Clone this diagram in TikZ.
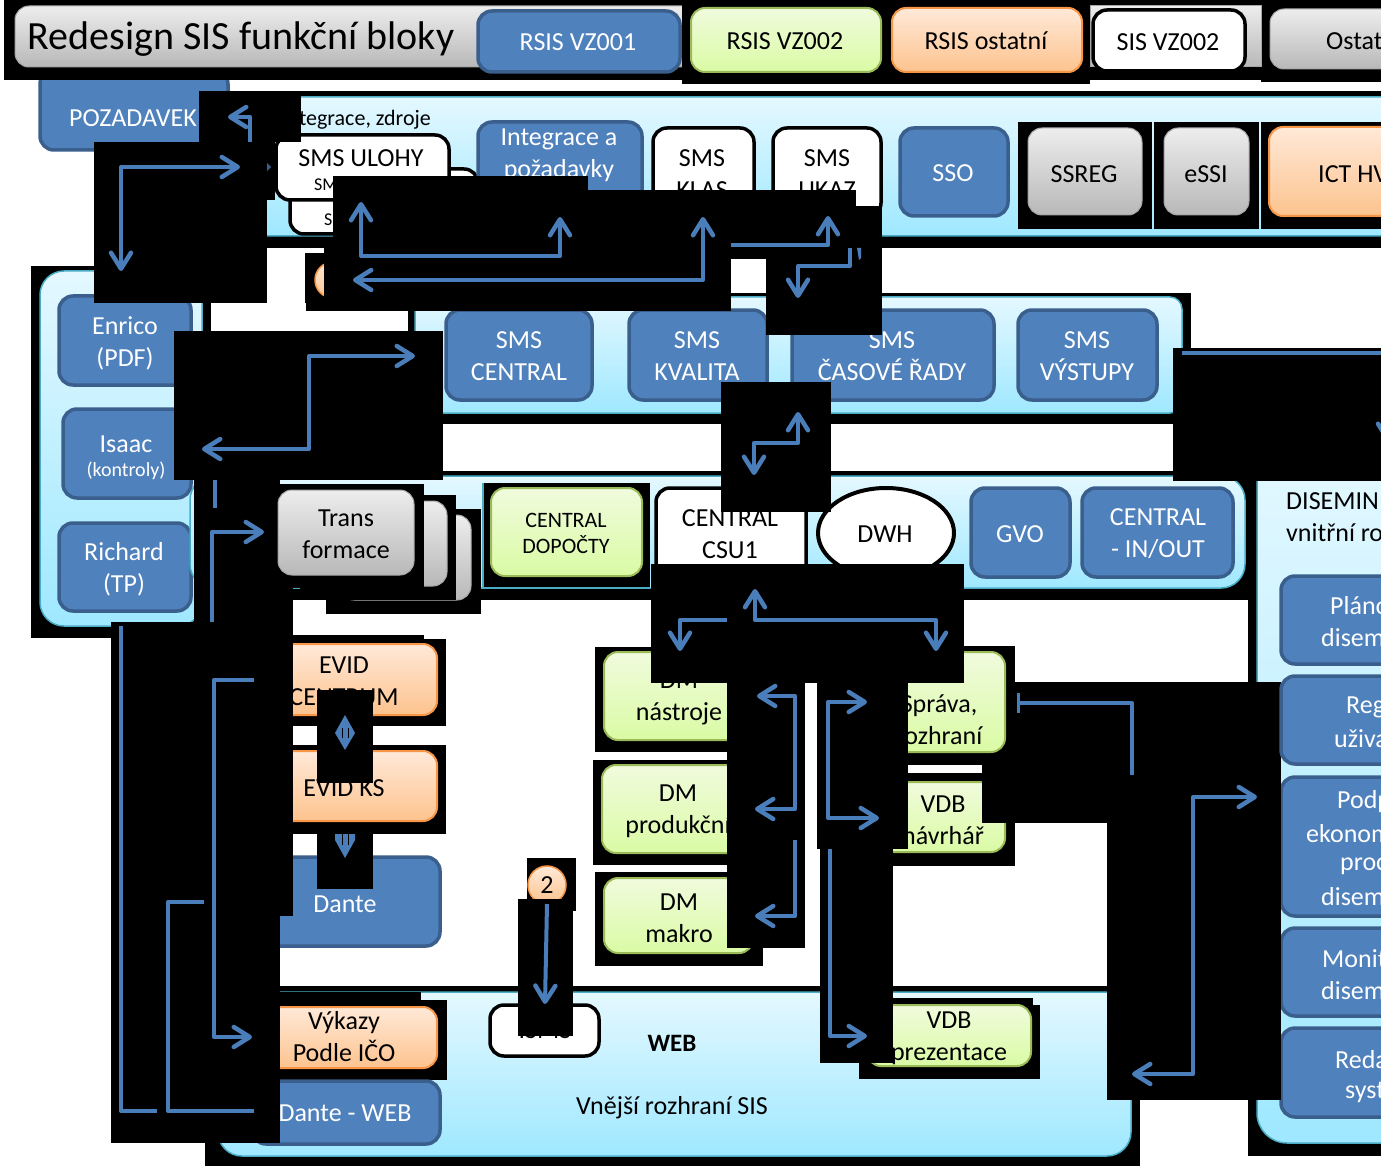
\documentclass[tikz,border=0pt]{standalone}
\usepackage{fontspec}
\setmainfont{Carlito}
\usetikzlibrary{arrows.meta,shapes.geometric}
\definecolor{flowc}{HTML}{4A7EBB}
\definecolor{blf}{HTML}{4F81BD}
\definecolor{bld}{HTML}{3A5F8C}
\definecolor{cyb}{HTML}{4BACC6}
\definecolor{green1}{HTML}{F0FBDD}
\definecolor{green2}{HTML}{DAFBA4}
\definecolor{orange1}{HTML}{F79646}
\definecolor{orange2}{HTML}{FFE9D8}
\definecolor{orange3}{HTML}{FDC38E}
\definecolor{grey1}{HTML}{EDEDED}
\definecolor{grey2}{HTML}{B8B8B8}
\definecolor{grey3}{HTML}{A6A6A6}
\definecolor{cy1}{HTML}{E4F8FF}
\definecolor{cy2}{HTML}{9FE8FF}
\definecolor{gbd}{HTML}{9BBB59}
\tikzset{
 bluebx/.style={draw=bld,fill=blf,line width=3.5pt,rounded corners=14pt},
 greenbx/.style={draw=gbd,top color=green1,bottom color=green2,line width=2pt,rounded corners=14pt},
 orangebx/.style={draw=orange1,top color=orange2,bottom color=orange3,line width=2pt,rounded corners=14pt},
 greybx/.style={draw=grey3,top color=grey1,bottom color=grey2,line width=1pt,rounded corners=14pt},
 whitebx/.style={draw=black,fill=white,line width=3.5pt,rounded corners=14pt},
 panelbx/.style={draw=cyb,top color=cy1,bottom color=cy2,line width=1.5pt,rounded corners=24pt},
 lbl/.style={font=\fontsize{26}{32}\selectfont,align=center,inner sep=0pt,text=black},
 lblw/.style={lbl,text=white},
 flow/.style={draw=flowc,line width=4pt,line join=round},
 barb/.tip={Straight Barb[length=16pt,width=20pt,line width=4.5pt,round]},
}
\newcommand\bx[6]{%
 \pgfmathsetmacro{\cxx}{(#3+#5)/2}\pgfmathsetmacro{\cyy}{(#4+#6)/2}%
 \pgfmathsetmacro{\wdd}{#5-#3}\pgfmathsetmacro{\htt}{#6-#4}%
 \node[#2,minimum width=\wdd pt,minimum height=\htt pt,inner sep=0pt,outer sep=0pt] (#1) at (\cxx,\cyy) {};}
\newcommand\tx[5][lbl]{\node[#1] (#2) at (#3,#4) {#5};}
\newcommand\bk[4]{\fill[black] (#1,#2) rectangle (#3,#4);}
\begin{document}
\begin{tikzpicture}[x=1pt,y=-1pt]
\useasboundingbox (0,0) rectangle (1381,1166);
\clip (0,0) rectangle (1381,1166);
\fill[white] (0,0) rectangle (1381,1166);
% POZADAVEK
\bx{poz}{bluebx}{40}{70}{228}{150}
\tx[lblw]{tpoz}{133}{118}{POZADAVEK}
% header
\bk{4}{0}{682}{80}
\bx{title}{greybx}{15}{6}{710}{67}
\bk{682}{0}{1090}{84} \bk{1090}{0}{1261}{80} \bk{1261}{0}{1381}{82}
\tx[lbl,font=\fontsize{40}{40}\selectfont]{ttitle}{241}{39}{Redesign SIS funkční bloky}
\bx{r1}{bluebx}{478}{11}{680}{72}\tx[lblw]{tr1}{578}{42}{RSIS VZ001}
\bx{r2}{greenbx}{691}{8}{881}{72}\tx{tr2}{785}{41}{RSIS VZ002}
\bx{r3}{orangebx}{892}{8}{1082}{72}\tx{tr3}{986}{41}{RSIS ostatní}
\bx{greyb}{greybx,rounded corners=0pt}{1090}{6}{1261}{67}
\bx{r4}{whitebx}{1093}{10}{1245}{71}\tx{tr4}{1168}{42}{SIS VZ002}
\bx{r5}{greybx}{1270}{9}{1420}{69}\tx[lbl,anchor=west]{tr5}{1326}{41}{Ostat}
% integration row
\bk{301}{91}{1381}{248}\bk{267}{142}{301}{248}
\bx{p1}{panelbx}{240}{97}{1420}{236}
\tx[lbl,font=\fontsize{22}{22}\selectfont,anchor=east]{tp1}{431}{120}{Integrace, zdroje}
\bx{ulb}{whitebx}{290}{169}{478}{234}
\tx[lbl,font=\fontsize{18}{18}\selectfont,anchor=west]{tulb}{324}{220}{S}
\bx{ul}{whitebx}{276}{135}{449}{200}
\tx{tul}{361}{158}{SMS ULOHY}
\tx[lbl,font=\fontsize{18}{18}\selectfont,anchor=west]{tul2}{314}{185}{SM}
\bx{ip}{bluebx}{478}{122}{642}{220}\tx[lblw]{tip}{559}{155}{Integrace a\\požadavky}
\bx{kl}{whitebx}{653}{128}{754}{217}\tx{tkl}{702}{174}{SMS\\KLAS}
\bx{uk}{whitebx}{773}{128}{881}{217}\tx{tuk}{827}{174}{SMS\\UKAZ}
\bx{sso}{bluebx}{900}{128}{1008}{216}\tx[lblw]{tsso}{953}{173}{SSO}
\bk{1018}{122}{1152}{229}\bk{1154}{122}{1259}{229}\bk{1261}{122}{1381}{229}
\bx{ssr}{greybx}{1028}{128}{1142}{215}\tx{tssr}{1084}{174}{SSREG}
\bx{esi}{greybx}{1164}{128}{1249}{215}\tx{tesi}{1206}{174}{eSSI}
\bx{ict}{orangebx}{1269}{127}{1420}{216}\tx[lbl,anchor=west]{tict}{1318}{174}{ICT HV}
% left panel
\bk{31}{266}{211}{638}
\bx{lp}{panelbx}{40}{271}{202}{626}
\bx{enr}{bluebx}{59}{296}{191}{385}\tx[lblw]{tenr}{125}{343}{Enrico\\(PDF)}
\bx{isa}{bluebx}{63}{409}{191}{498}
\tx[lblw]{tisa}{126}{444}{Isaac}
\tx[lblw,font=\fontsize{20}{20}\selectfont]{tisa2}{126}{471}{(kontroly)}
\bx{ric}{bluebx}{59}{523}{191}{611}\tx[lblw]{tric}{124}{569}{Richard\\(TP)}
% SMS panel
\bk{408}{293}{1191}{424}
\bx{p2}{panelbx,rounded corners=12pt}{415}{297}{1182}{413}
\bx{sc}{bluebx}{446}{310}{592}{400}\tx[lblw]{tsc}{519}{356}{SMS\\CENTRAL}
\bx{sk}{bluebx}{629}{310}{767}{400}\tx[lblw]{tsk}{697}{356}{SMS\\KVALITA}
\bx{sr}{bluebx}{792}{310}{994}{400}\tx[lblw]{tsr}{892}{356}{SMS\\ČASOVÉ ŘADY}
\bx{sv}{bluebx}{1018}{310}{1157}{400}\tx[lblw]{tsv}{1087}{356}{SMS\\VÝSTUPY}
% central panel
\bk{443}{471}{1248}{600}
\bx{p3}{panelbx}{190}{476}{1245}{588}
\bk{483}{483}{650}{588}
\draw[cyb,line width=1.2pt] (483,483) -- (483,588) -- (650,588);
\bx{dop}{greenbx}{491}{488}{642}{576}
\tx[lbl,font=\fontsize{22}{26}\selectfont]{tdop}{566}{533}{CENTRAL\\DOPOČTY}
\bx{csu}{whitebx}{656}{488}{806}{600}\tx{tcsu}{730}{534}{CENTRAL\\CSU1}
\node[draw=black,fill=white,line width=4pt,ellipse,minimum width=136pt,minimum height=90pt,inner sep=0pt] (dwh) at (886,533) {};
\tx{tdwh}{885}{534}{DWH}
\bx{gvo}{bluebx}{971}{488}{1070}{577}\tx[lblw]{tgvo}{1020}{534}{GVO}
\bx{cio}{bluebx}{1082}{488}{1233}{577}\tx[lblw]{tcio}{1158}{534}{CENTRAL\\- IN/OUT}
% disem panel
\bk{1248}{470}{1381}{1156}
\bx{p4}{panelbx,rounded corners=30pt}{1257}{440}{1420}{1143}
\tx[lbl,anchor=west]{td1}{1286}{501}{DISEMIN}
\tx[lbl,anchor=west]{td2}{1286}{533}{vnitřní ro}
\bx{d1}{bluebx}{1281}{576}{1430}{664}
\tx[lblw,anchor=west]{td11}{1330}{606}{Pláno}\tx[lblw,anchor=west]{td12}{1321}{638}{disem}
\bx{d3}{bluebx}{1281}{777}{1430}{916}
\tx[lblw,anchor=west]{td31}{1337}{802}{Podp}\tx[lblw,anchor=west]{td32}{1306}{834}{ekonom}
\tx[lblw,anchor=west]{td33}{1340}{866}{proc}\tx[lblw,anchor=west]{td34}{1321}{897}{disem}
\bx{d4}{bluebx}{1281}{928}{1430}{1016}
\tx[lblw,anchor=west]{td41}{1322}{959}{Monit}\tx[lblw,anchor=west]{td42}{1321}{991}{disem}
\bx{d5}{bluebx}{1281}{1028}{1430}{1117}
\tx[lblw,anchor=west]{td51}{1335}{1060}{Reda}\tx[lblw,anchor=west]{td52}{1345}{1092}{syst}
% left block, behind the trans stack
\bk{194}{480}{280}{600}\bk{194}{600}{293}{622}\bk{280}{588}{326}{600}
\draw[cyb,line width=1.2pt] (293,588) -- (300,588);
\draw[flow] (215,480) -- (215,508);
\draw[flow,-{barb}] (212,622) -- (212,532) -- (264,532);
% trans stack
\bk{326}{509}{481}{614}
\bx{tr3b}{greybx}{340}{515}{471}{600}
\bk{320}{495}{456}{600}
\bx{tr2b}{greybx}{330}{501}{447}{586}
\bk{280}{484}{424}{588}
\bx{trb}{greybx}{278}{490}{414}{575}\tx{ttr}{346}{534}{Trans\\formace}
% EVID etc.
\bk{293}{635}{424}{726}\bk{293}{639}{446}{726}
\bx{ec}{orangebx}{252}{644}{437}{715}\tx{tec}{344}{681}{EVID\\CENTRUM}
\bk{280}{745}{446}{834}
\bx{ek}{orangebx}{252}{751}{437}{821}\tx{tek}{344}{788}{EVID KS}
\bx{dan}{bluebx}{252}{857}{440}{946}\tx[lblw]{tdan}{345}{904}{Dante}
% web panel
\bk{205}{986}{1140}{1166}
\bk{1107}{986}{1140}{1100}
\bx{p5}{panelbx}{218}{992}{1131}{1156}
\tx[lbl,font=\bfseries\fontsize{25}{25}\selectfont]{tweb}{672}{1043}{WEB}
\tx{tvn}{672}{1108}{Vnější rozhraní SIS}
\bk{280}{992}{421}{1000}\bk{280}{1000}{447}{1080}
\bx{vyk}{orangebx}{252}{1007}{437}{1068}\tx{tvyk}{344}{1037}{Výkazy\\Podle IČO}
\bx{dw}{bluebx}{252}{1081}{440}{1144}\tx[lblw]{tdw}{345}{1113}{Dante - WEB}
\bx{ism}{whitebx}{490}{1005}{599}{1056}\tx{tism}{545}{1030}{ISMS}
% DM
\bk{595}{647}{770}{752}
\bx{dm1}{greenbx}{604}{652}{755}{740}\tx{tdm1}{679}{698}{DM\\nástroje}
\bk{593}{760}{770}{865}
\bx{dm2}{greenbx}{602}{765}{754}{853}\tx{tdm2}{678}{811}{DM\\produkční}
\bk{595}{872}{763}{966}
\bx{dm3}{greenbx}{604}{878}{753}{953}\tx{tdm3}{679}{918}{DM\\makro}
% sprava, vdb
\bk{860}{646}{1015}{765}
\bx{spr}{greenbx}{872}{652}{1005}{752}\tx{tspr}{939}{720}{Správa,\\rozhraní}
\bk{880}{773}{1015}{866}
\bx{vn}{greenbx}{880}{782}{1005}{852}\tx{tvn2}{943}{820}{VDB\\návrhář}
\bk{859}{998}{1033}{1030}\bk{859}{1005}{1040}{1079}
\bx{vp}{greenbx}{867}{1005}{1031}{1066}\tx{tvp}{949}{1038}{VDB\\prezentace}
% black covers with arrows
\bk{199}{91}{301}{142}
\draw[flow,-{barb}] (250,142) -- (250,117) -- (228,117);
\bk{94}{142}{267}{303}\bk{267}{142}{275}{200}
\draw[flow,{barb}-{barb}] (240,167) -- (121,167) -- (121,271);
\fill[bld] (267,163) -- (271,167) -- (267,171) -- cycle;
\bk{305}{253}{324}{303}\bk{306}{303}{324}{311}
\node[draw=orange1,top color=orange2,bottom color=orange3,line width=1.5pt,circle,minimum size=36pt,inner sep=0pt] (c1) at (333,280) {};
\bk{333}{176}{588}{190}\bk{333}{190}{856}{248}\bk{856}{206}{882}{248}\bk{731}{248}{766}{259}\bk{324}{248}{731}{311}
\draw[flow,{barb}-{barb}] (361,202) -- (361,256) -- (560,256) -- (560,217);
\draw[flow,{barb}-{barb}] (703,217) -- (703,280) -- (353,280);
\draw[flow,-{barb}] (731,245) -- (828,245) -- (828,216);
\bk{766}{248}{882}{335}
\draw[flow,-{barb}] (850,248) -- (850,266) -- (798,266) -- (798,298);
\fill[flowc] (857,248) -- (861,248) -- (861,258) -- (859,260) -- cycle;
\bk{174}{331}{443}{480}
\draw[flow,{barb}-{barb}] (415,356) -- (309,356) -- (309,449) -- (202,449);
\bk{721}{382}{831}{512}
\draw[flow,{barb}-{barb}] (798,412) -- (798,443) -- (754,443) -- (754,475);
\bk{111}{622}{293}{916}\bk{111}{916}{280}{1143}
\draw[flow] (121,626) -- (121,1111) -- (157,1111);
\draw[flow,-{barb}] (254,680) -- (214,680) -- (214,1037) -- (252,1037);
\draw[flow] (204,902) -- (168,902) -- (168,1111) -- (254,1111);
\bk{317}{690}{373}{783}
\fill[flowc] (345,715) -- (355,733) -- (345,750) -- (335,733) -- cycle;
\draw[black,line width=1pt] (342,728) -- (342,738) (348,728) -- (348,738);
\bk{317}{834}{373}{889}
\fill[flowc] (335,834) -- (355,834) -- (355,840) -- (345,858) -- (335,840) -- cycle;
\draw[black,line width=1pt] (342,834) -- (342,845) (348,834) -- (348,845);
% circle 2
\bk{527}{858}{576}{911}
\node[draw=orange1,top color=orange2,bottom color=orange3,line width=1.5pt,circle,minimum size=38pt,inner sep=0pt,font=\fontsize{26}{26}\selectfont] (c2) at (547,885) {2};
\bk{518}{899}{573}{1036}
\draw[flow,-{barb}] (547,904) -- (545,1004);
% centre connectors
\bk{651}{564}{964}{683}
\draw[flow,-{barb}] (727,620) -- (680,620) -- (680,651);
\draw[flow,{barb}-{barb}] (755,589) -- (755,620) -- (936,620) -- (936,651);
\bk{727}{683}{805}{948}
\draw[flow,{barb}-{barb}] (757,696) -- (795,696) -- (795,809) -- (755,809);
\draw[flow,-{barb}] (795,840) -- (795,916) -- (755,916);
\bk{817}{683}{908}{849}\bk{820}{849}{893}{1063}
\draw[flow,{barb}-{barb}] (867,702) -- (828,702) -- (828,818) -- (879,818);
\draw[flow,-{barb}] (830,849) -- (830,1036) -- (867,1036);
% right block
\bk{982}{765}{1107}{823}\bk{1015}{682}{1281}{823}\bk{1107}{823}{1281}{1100}
\bx{d2}{bluebx}{1281}{676}{1430}{764}
\tx[lblw,anchor=west]{td21}{1346}{707}{Reg}\tx[lblw,anchor=west]{td22}{1334}{739}{uživa}
\draw[flow,-{Bar[width=20pt,line width=3pt]}] (1132,775) -- (1132,703) -- (1017,703);
\draw[flow,{barb}-{barb}] (1257,797) -- (1193,797) -- (1193,1074) -- (1132,1074);
% top right
\bk{1173}{348}{1381}{481}
\draw[flow,-{barb}] (1182,353) -- (1388,353) -- (1388,442);
\end{tikzpicture}
\end{document}
